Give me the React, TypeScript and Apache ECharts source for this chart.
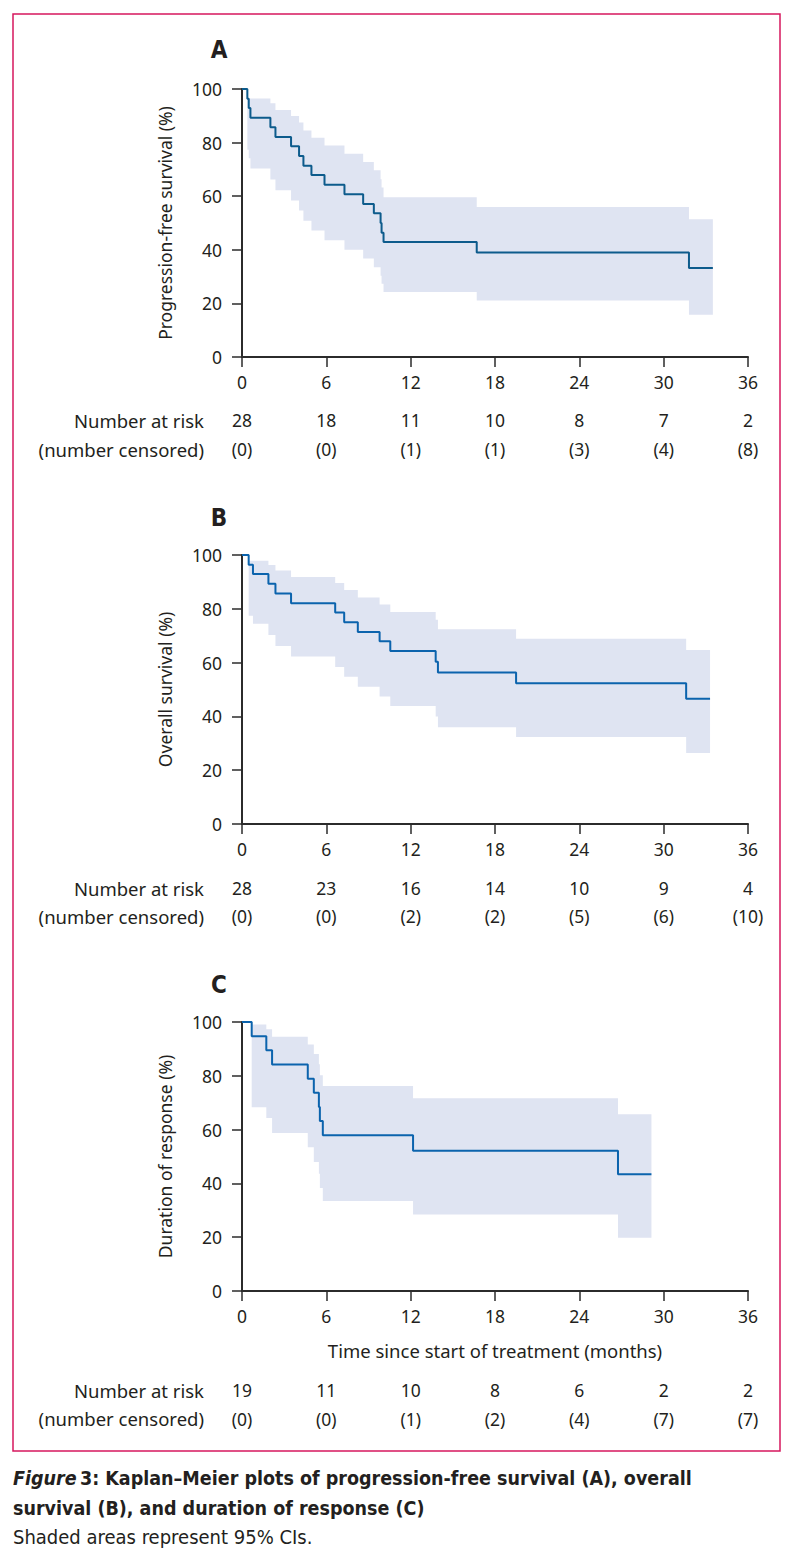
import React, { useEffect, useRef } from "react";
import * as echarts from "echarts";

// ---- shared axis ticks ----
const X_TICKS = [0, 6, 12, 18, 24, 30, 36];

// ---- Panel A: progression-free survival ----
const pfsTimes = [0, 0.38, 0.48, 0.6, 2.02, 2.38, 3.49, 4.06, 4.37, 4.94, 5.87, 7.29, 8.62, 9.38, 9.86, 9.93, 10.07, 16.7, 31.8];
const pfsSurv = [100, 96.4, 92.9, 89.3, 85.7, 82.1, 78.6, 75.0, 71.4, 67.9, 64.3, 60.7, 57.1, 53.6, 50.0, 46.4, 42.9, 39.0, 33.2];
const pfsUpper = [null, 96.5, 96.5, 96.5, 94.7, 92.2, 89.9, 87.5, 84.5, 81.8, 78.9, 75.8, 72.8, 69.7, 66.3, 63.2, 59.6, 56.0, 51.4];
const pfsLower = [null, 77.3, 74.2, 70.3, 66.2, 62.2, 58.4, 54.7, 50.8, 47.2, 43.6, 40.0, 36.8, 33.5, 30.3, 27.3, 24.3, 21.1, 15.8];
const pfsEnd = 33.5;
const pfsAtRisk = [28, 18, 11, 10, 8, 7, 2];
const pfsCensored = [0, 0, 1, 1, 3, 4, 8];

// ---- Panel B: overall survival ----
const osTimes = [0, 0.475, 0.78, 1.88, 2.38, 3.49, 6.63, 7.27, 8.24, 9.79, 10.55, 13.78, 13.94, 19.5, 31.6];
const osSurv = [100, 96.4, 92.9, 89.3, 85.7, 82.1, 78.6, 75.0, 71.4, 67.9, 64.3, 60.3, 56.3, 52.3, 46.6];
const osUpper = [null, 97.9, 97.9, 96.3, 94.2, 91.8, 89.6, 87.0, 84.2, 81.6, 78.8, 75.9, 72.4, 68.9, 64.7];
const osLower = [null, 77.4, 74.4, 70.3, 66.2, 62.3, 58.4, 54.7, 51.0, 47.4, 43.9, 40.0, 36.0, 32.3, 26.4];
const osEnd = 33.3;
const osAtRisk = [28, 23, 16, 14, 10, 9, 4];
const osCensored = [0, 0, 2, 2, 5, 6, 10];

// ---- Panel C: duration of response ----
const dorTimes = [0, 0.69, 1.73, 2.14, 4.68, 5.11, 5.47, 5.54, 5.75, 12.17, 26.75];
const dorSurv = [100, 94.7, 89.5, 84.2, 78.9, 73.7, 68.4, 63.2, 57.9, 52.1, 43.4];
const dorUpper = [null, 99.1, 97.3, 94.5, 91.6, 88.1, 84.3, 80.2, 76.2, 71.7, 65.7];
const dorLower = [null, 68.3, 64.3, 58.7, 53.4, 48.0, 43.6, 38.3, 33.5, 28.4, 19.8];
const dorEnd = 29.13;
const dorAtRisk = [19, 11, 10, 8, 6, 2, 2];
const dorCensored = [0, 0, 1, 2, 4, 7, 7];

const FONT = "'Noto Sans', 'Open Sans', sans-serif";
const COND = "'Liberation Sans Narrow', 'DejaVu Sans Condensed', sans-serif";
const TXT = "#231f20";
const AX = "#2b2b2b";
const BAND = "#dfe4f2";

function bandSeries(axisIdx: number, times: number[], upper: (number | null)[], lower: (number | null)[], end: number) {
  return {
    type: "custom",
    xAxisIndex: axisIdx * 3,
    yAxisIndex: axisIdx,
    silent: true,
    z: 1,
    data: [[0, 0]],
    renderItem: (_params: any, api: any) => {
      const top: number[][] = [];
      const bot: number[][] = [];
      for (let i = 0; i < times.length; i++) {
        if (upper[i] == null || lower[i] == null) continue;
        const t0 = times[i];
        const t1 = i + 1 < times.length ? times[i + 1] : end;
        top.push(api.coord([t0, upper[i]]), api.coord([t1, upper[i]]));
        bot.push(api.coord([t0, lower[i]]), api.coord([t1, lower[i]]));
      }
      return {
        type: "polygon",
        shape: { points: top.concat(bot.reverse()) },
        style: { fill: BAND, stroke: null },
      };
    },
  };
}

function lineSeries(axisIdx: number, times: number[], surv: number[], end: number, color: string) {
  const data = times.map((t, i) => [t, surv[i]]);
  data.push([end, surv[surv.length - 1]]);
  return {
    type: "line",
    xAxisIndex: axisIdx * 3,
    yAxisIndex: axisIdx,
    step: "end",
    symbol: "none",
    z: 3,
    silent: true,
    lineStyle: { color, width: 2 },
    data,
  };
}

function mainX(gridIndex: number, name?: string) {
  return {
    type: "value",
    gridIndex,
    min: 0,
    max: 36,
    interval: 6,
    name: name || "",
    nameLocation: "middle",
    nameGap: 59,
    nameTextStyle: { fontSize: 18.5, color: TXT, fontFamily: FONT, verticalAlign: "middle" },
    axisLine: { show: true, onZero: false, lineStyle: { color: AX, width: 2 } },
    axisTick: { show: true, length: 10, lineStyle: { color: AX, width: 1.5 } },
    axisLabel: { margin: 25, fontSize: 17.5, color: TXT, fontFamily: FONT, verticalAlign: "middle" },
    splitLine: { show: false },
  };
}

function tableX(gridIndex: number, offset: number, values: number[], paren: boolean) {
  return {
    type: "value",
    gridIndex,
    min: 0,
    max: 36,
    interval: 6,
    position: "bottom",
    offset,
    axisLine: { show: false },
    axisTick: { show: false },
    splitLine: { show: false },
    axisLabel: {
      margin: 0,
      fontSize: 17.5,
      color: TXT,
      fontFamily: FONT,
      verticalAlign: "middle",
      formatter: (v: number) => {
        const i = X_TICKS.indexOf(v);
        if (i < 0) return "";
        return paren ? `(${values[i]})` : `${values[i]}`;
      },
    },
  };
}

function mainY(gridIndex: number, name: string) {
  return {
    type: "value",
    gridIndex,
    min: 0,
    max: 100,
    interval: 20,
    name,
    nameLocation: "middle",
    nameGap: 77,
    nameTextStyle: { fontSize: 17.5, color: TXT, fontFamily: FONT, verticalAlign: "middle" },
    axisLine: { show: true, onZero: false, lineStyle: { color: AX, width: 2 } },
    axisTick: { show: true, length: 10, lineStyle: { color: AX, width: 1.5 } },
    axisLabel: { margin: 20, fontSize: 17.5, color: TXT, fontFamily: FONT },
    splitLine: { show: false },
  };
}

function label(x: number, y: number, text: string, opts: any = {}) {
  return {
    type: "text",
    x,
    y,
    silent: true,
    style: {
      text,
      fill: TXT,
      fontSize: 18.5,
      fontFamily: FONT,
      align: "right",
      verticalAlign: "middle",
      ...opts,
    },
  };
}

export default function App() {
  const ref = useRef<HTMLDivElement>(null);
  useEffect(() => {
    if (!ref.current) return;
    const chart = echarts.init(ref.current, undefined, { renderer: "svg" });
    const grids = [
      { left: 242, right: 46, top: 89, height: 268 },
      { left: 242, right: 46, top: 555, height: 269 },
      { left: 242, right: 46, top: 1022, height: 269 },
    ];
    const option: any = {
      animation: false,
      backgroundColor: "#ffffff",
      grid: grids.map((g) => ({ ...g, containLabel: false })),
      xAxis: [
        mainX(0),
        tableX(0, 63, pfsAtRisk, false),
        tableX(0, 92, pfsCensored, true),
        mainX(1),
        tableX(1, 64, osAtRisk, false),
        tableX(1, 92, osCensored, true),
        mainX(2, "Time since start of treatment (months)"),
        tableX(2, 99, dorAtRisk, false),
        tableX(2, 128, dorCensored, true),
      ],
      yAxis: [
        mainY(0, "Progression-free survival (%)"),
        mainY(1, "Overall survival (%)"),
        mainY(2, "Duration of response (%)"),
      ],
      series: [
        bandSeries(0, pfsTimes, pfsUpper, pfsLower, pfsEnd),
        lineSeries(0, pfsTimes, pfsSurv, pfsEnd, "#0d5b8c"),
        bandSeries(1, osTimes, osUpper, osLower, osEnd),
        lineSeries(1, osTimes, osSurv, osEnd, "#0b63ad"),
        bandSeries(2, dorTimes, dorUpper, dorLower, dorEnd),
        lineSeries(2, dorTimes, dorSurv, dorEnd, "#0b63ad"),
      ],
      graphic: [
        {
          type: "rect",
          silent: true,
          shape: { x: 13, y: 14, width: 767, height: 1437 },
          style: { fill: "none", stroke: "#d6175e", lineWidth: 1.5 },
        },
        label(219, 50, "A", { align: "center", fontSize: 24, fontWeight: "bold", fontFamily: COND }),
        label(219, 518, "B", { align: "center", fontSize: 24, fontWeight: "bold", fontFamily: COND }),
        label(219, 985, "C", { align: "center", fontSize: 24, fontWeight: "bold", fontFamily: COND }),
        label(204, 420, "Number at risk"),
        label(204, 449, "(number censored)"),
        label(204, 888, "Number at risk"),
        label(204, 916, "(number censored)"),
        label(204, 1390, "Number at risk"),
        label(204, 1418, "(number censored)"),
        {
          type: "text",
          x: 13,
          y: 1478,
          silent: true,
          style: {
            text: "{i|Figure} {b|3: Kaplan–Meier plots of progression-free survival (A), overall}",
            fill: TXT,
            verticalAlign: "middle",
            align: "left",
            rich: {
              i: { fontSize: 19.5, fontStyle: "italic", fontWeight: "bold", fontFamily: COND, fill: TXT },
              b: { fontSize: 19.5, fontWeight: "bold", fontFamily: COND, fill: TXT },
            },
          },
        },
        {
          type: "text",
          x: 13,
          y: 1508,
          silent: true,
          style: {
            text: "survival (B), and duration of response (C)",
            fill: TXT,
            fontSize: 19.5,
            fontWeight: "bold",
            fontFamily: COND,
            verticalAlign: "middle",
            align: "left",
          },
        },
        {
          type: "text",
          x: 13,
          y: 1537,
          silent: true,
          style: {
            text: "Shaded areas represent 95% CIs.",
            fill: TXT,
            fontSize: 20,
            fontFamily: COND,
            verticalAlign: "middle",
            align: "left",
          },
        },
      ],
    };
    chart.setOption(option);
    return () => chart.dispose();
  }, []);
  return (
    <div
      ref={ref}
      style={{ position: "absolute", left: 0, top: 0, width: 794, height: 1562, background: "#fff" }}
    />
  );
}
